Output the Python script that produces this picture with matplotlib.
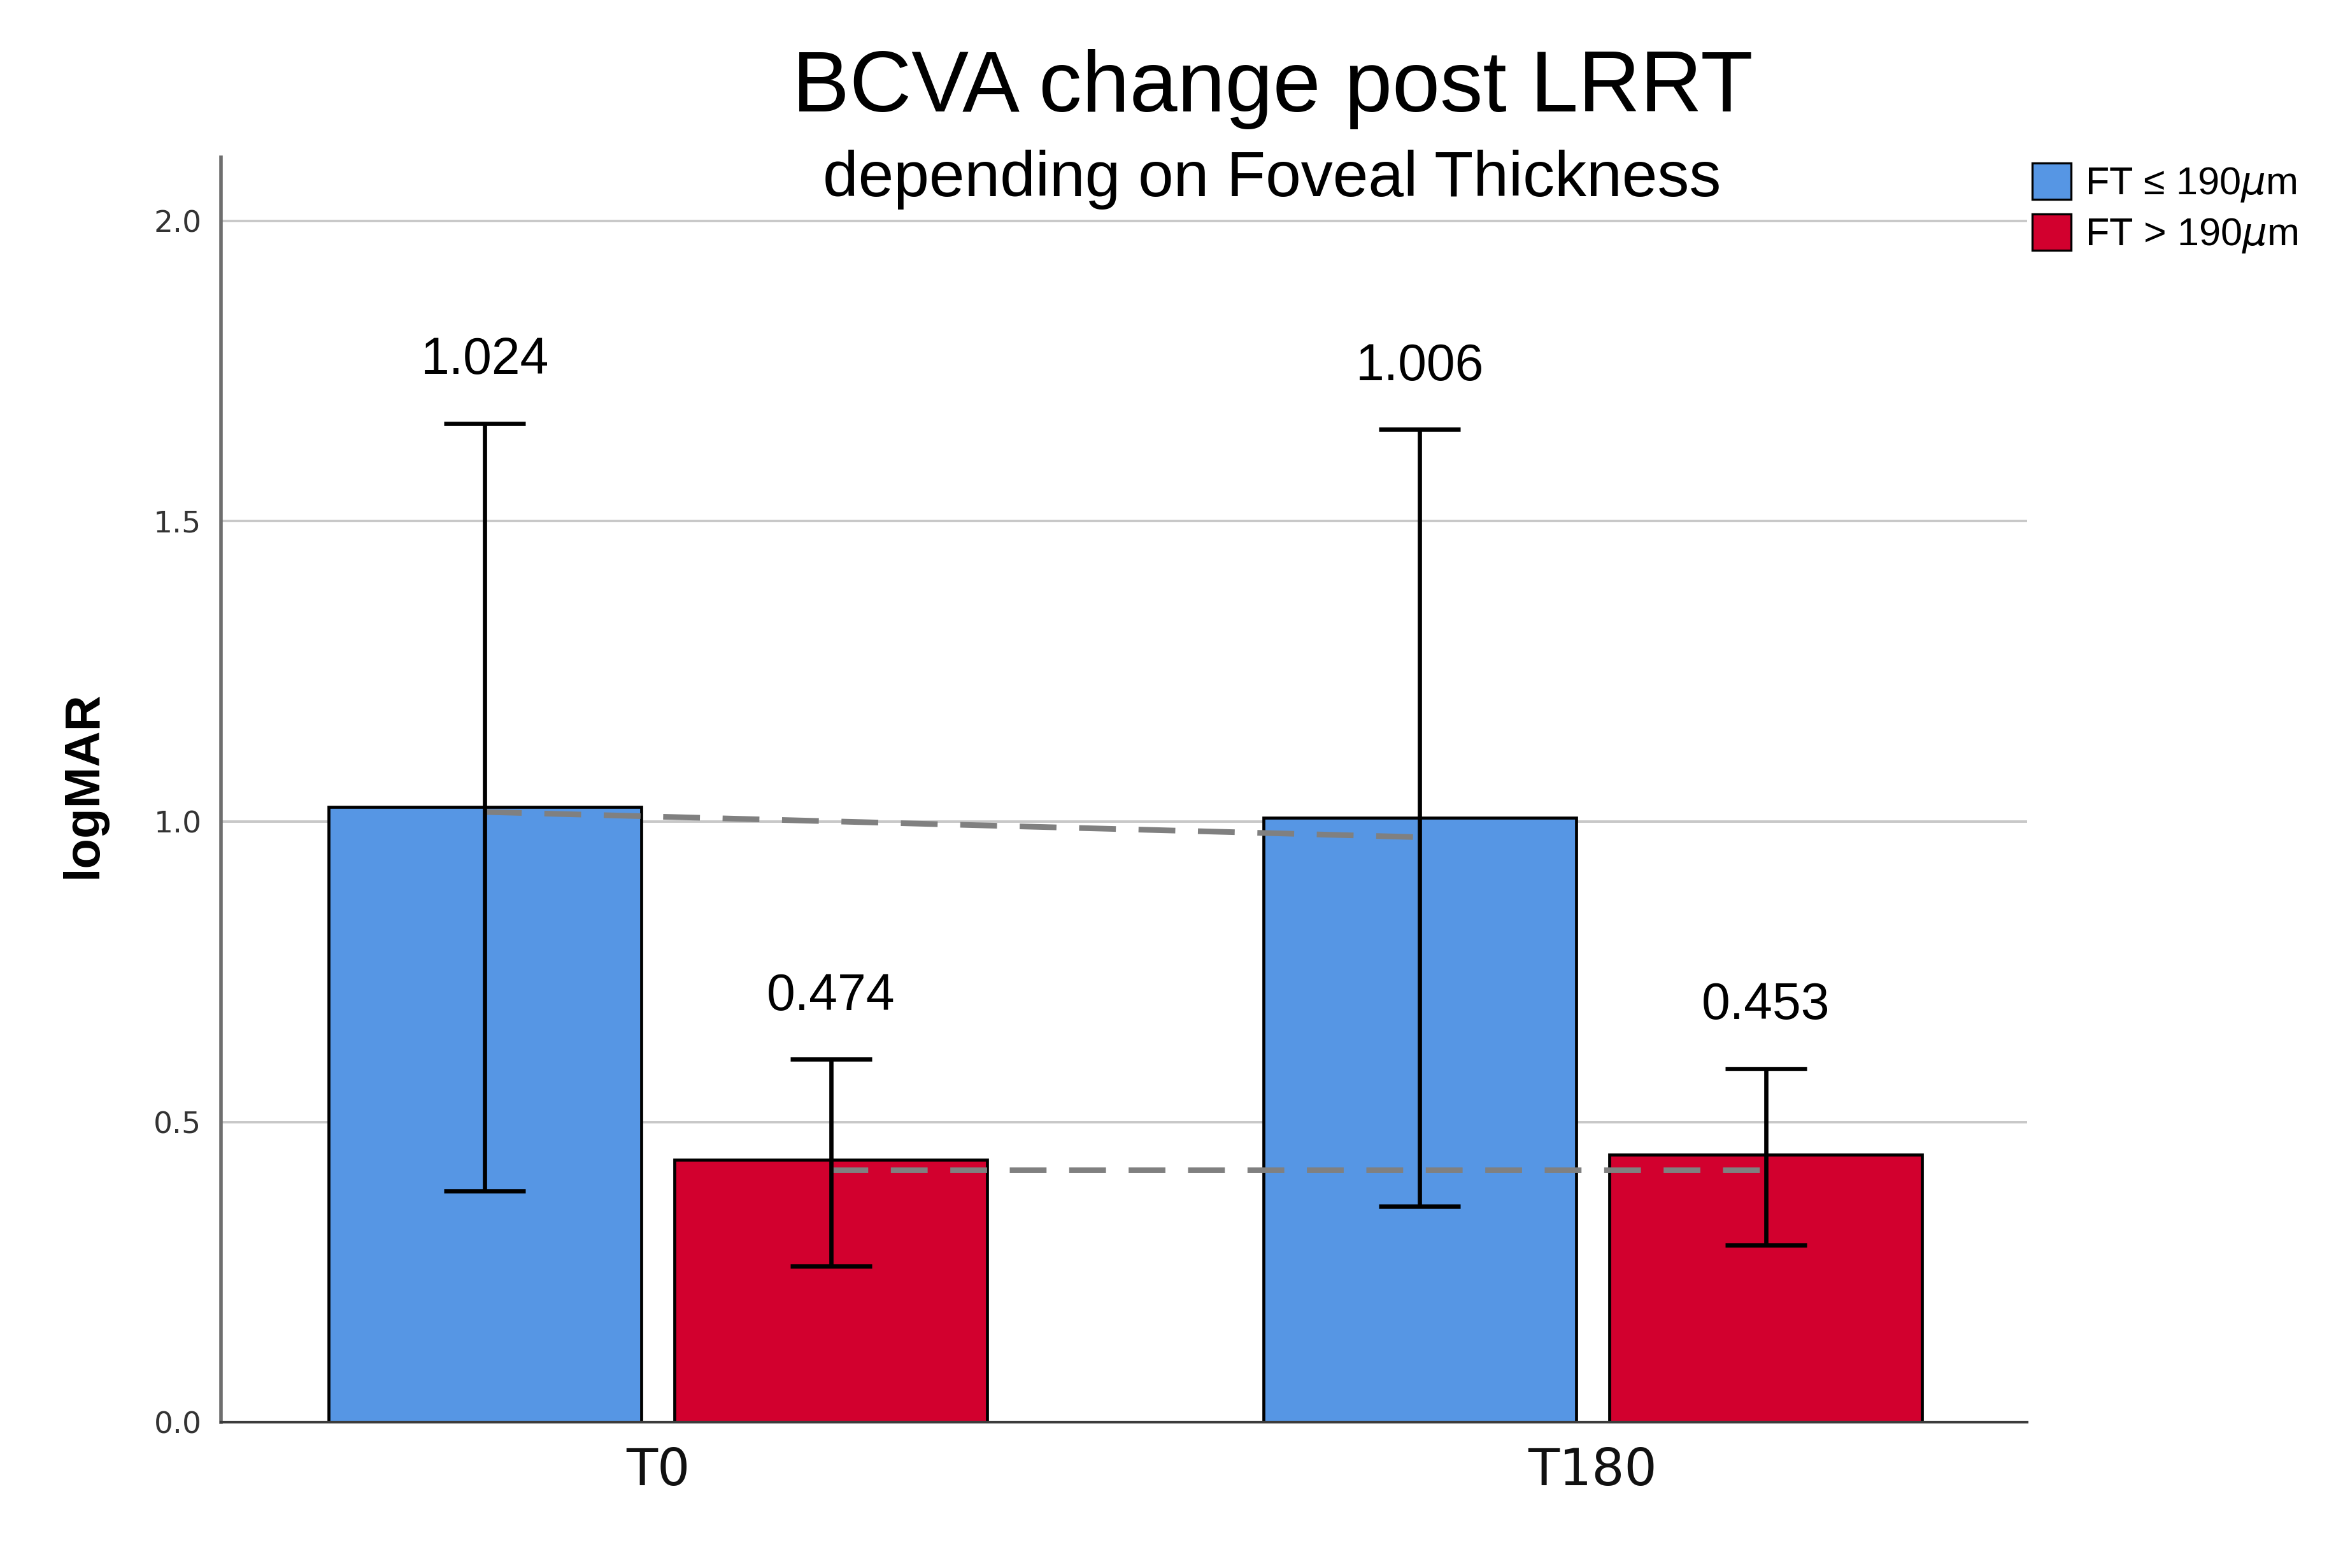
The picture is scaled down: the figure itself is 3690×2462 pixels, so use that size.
import matplotlib.pyplot as plt
from matplotlib.patches import Patch
import numpy as np

# ---------------- DATA ----------------
timepoints = ["T0", "T180"]
groups = ["FT \u2264 190$\\mu$m", "FT > 190$\\mu$m"]
bar_thin = [1.024, 1.006]          # FT <= 190um
bar_thick = [0.437, 0.445]         # FT > 190um
err_lo_thin = [0.385, 0.360]
err_hi_thin = [1.663, 1.653]
err_lo_thick = [0.260, 0.295]
err_hi_thick = [0.604, 0.589]
labels_thin = ["1.024", "1.006"]
labels_thick = ["0.474", "0.453"]
trend_thin = [1.016, 0.974]
trend_thick = [0.420, 0.420]

BLUE = "#5696E4"
RED = "#D2002E"
FONT = ["Liberation Sans", "DejaVu Sans"]

fig = plt.figure(figsize=(18.45, 12.31), dpi=200)
ax = fig.add_axes([0.09404, 0.09301, 0.76856, 0.80666])

x = np.arange(len(timepoints))
off = 0.185
width = 0.334

# gridlines
ax.set_axisbelow(True)
ax.yaxis.grid(True, color="#c8c8c8", linewidth=1.4)

ax.bar(x - off, bar_thin, width, color=BLUE, edgecolor="black", linewidth=1.7, zorder=2)
ax.bar(x + off, bar_thick, width, color=RED, edgecolor="black", linewidth=1.7, zorder=2)

# dashed trend lines
ax.plot(x - off, trend_thin, color="#808080", linewidth=3.2, dashes=(6.5, 4), zorder=3)
ax.plot(x + off, trend_thick, color="#808080", linewidth=3.2, dashes=(6.5, 4), zorder=3)

# error bars
for xs, m, lo, hi in [(x - off, bar_thin, err_lo_thin, err_hi_thin),
                      (x + off, bar_thick, err_lo_thick, err_hi_thick)]:
    m = np.array(m)
    yerr = [m - np.array(lo), np.array(hi) - m]
    ax.errorbar(xs, m, yerr=yerr, fmt="none", ecolor="black",
                elinewidth=2.4, capsize=23, capthick=2.4, zorder=4)

# value labels
for xs, hi, labs in [(x - off, err_hi_thin, labels_thin),
                     (x + off, err_hi_thick, labels_thick)]:
    for xi, h, lab in zip(xs, hi, labs):
        ax.annotate(lab, (xi, h), xytext=(0, 35.5), textcoords="offset points",
                    ha="center", va="center", fontsize=29, family=FONT)

ax.set_xlim(-0.4673, 1.4646)
ax.set_ylim(0, 2.106)
ax.set_yticks([0.0, 0.5, 1.0, 1.5, 2.0])
ax.set_yticklabels(["0.0", "0.5", "1.0", "1.5", "2.0"])
ax.set_xticks(x)
ax.set_xticklabels(timepoints)
ax.tick_params(axis="y", length=0, pad=11, labelsize=17, labelcolor="#333333")
ax.tick_params(axis="x", length=0, pad=13.5, labelsize=29, labelcolor="#111111")
for lab in ax.get_yticklabels():
    lab.set_family("DejaVu Sans")
for lab in ax.get_xticklabels():
    lab.set_family("DejaVu Sans")

ax.spines["top"].set_visible(False)
ax.spines["right"].set_visible(False)
ax.spines["left"].set_color("#6e6e6e")
ax.spines["left"].set_linewidth(2.0)
ax.spines["bottom"].set_color("#3c3c3c")
ax.spines["bottom"].set_linewidth(1.5)

# titles and axis label
fig.text(0.5415, 0.9289, "BCVA change post LRRT", ha="center", va="baseline",
         fontsize=48.5, family=FONT)
fig.text(0.5412, 0.8749, "depending on Foveal Thickness", ha="center", va="baseline",
         fontsize=36, family=FONT)
fig.text(0.0355, 0.4996, "logMAR", rotation=90, ha="center", va="center",
         fontsize=28, fontweight="bold", family=FONT)

# legend
handles = [Patch(facecolor=BLUE, edgecolor="black", linewidth=1.2),
           Patch(facecolor=RED, edgecolor="black", linewidth=1.2)]
fig.legend(handles, groups, loc="upper left", bbox_to_anchor=(0.8648, 0.896),
           frameon=False, borderpad=0, borderaxespad=0, handlelength=1.0,
           handleheight=1.06, handletextpad=0.35, labelspacing=0.25,
           prop={"family": FONT, "size": 22})

fig.savefig("out.png", dpi=200)
